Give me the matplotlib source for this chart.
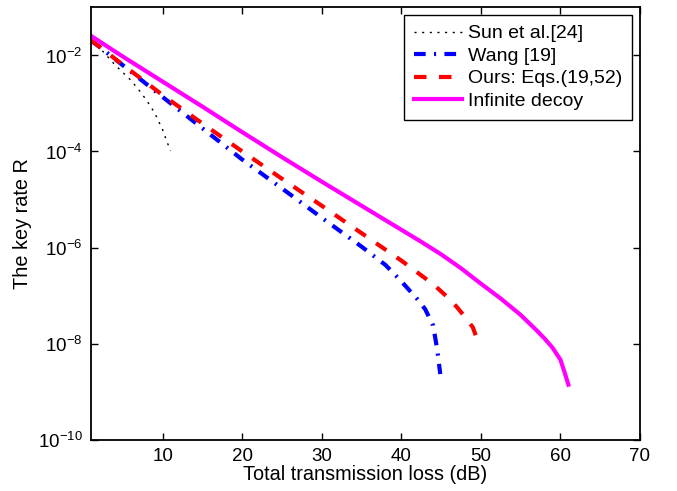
import numpy as np
import matplotlib
matplotlib.use("Agg")
import matplotlib.pyplot as plt
from matplotlib.ticker import FixedLocator, NullLocator, FuncFormatter

plt.rcParams['font.family'] = ['Liberation Sans', 'DejaVu Sans']
plt.rcParams['mathtext.fontset'] = 'custom'
plt.rcParams['mathtext.rm'] = 'Liberation Sans'

# values (log10 of key rate)
sun_x = [1, 2, 4, 6, 7, 8, 9, 10, 10.5, 11]
sun_log = [-1.70, -1.83, -2.20, -2.52, -2.72, -2.94, -3.20, -3.55, -3.78, -3.99]

wang_x = [1, 2, 5, 10, 15, 20, 25, 30, 35, 38, 40, 42, 43, 44, 44.5, 44.9]
wang_log = [-1.70, -1.82, -2.21, -2.87, -3.52, -4.17, -4.77, -5.38, -5.98,
            -6.36, -6.70, -7.07, -7.28, -7.62, -8.10, -8.63]

ours_x = [1, 5, 10, 15, 20, 25, 30, 35, 40, 44, 46, 47, 48, 49, 49.6]
ours_log = [-1.69, -2.20, -2.83, -3.42, -4.00, -4.57, -5.13, -5.70, -6.27,
            -6.76, -7.06, -7.24, -7.44, -7.66, -7.94]

inf_x = [1, 5, 10, 15, 20, 25, 30, 35, 40, 42.5, 45, 47.5, 50, 52.5, 55,
         57, 58, 59, 60, 60.5, 61]
inf_log = [-1.60, -2.03, -2.55, -3.07, -3.60, -4.12, -4.63, -5.13, -5.63,
           -5.88, -6.14, -6.43, -6.75, -7.06, -7.40, -7.72, -7.89, -8.08,
           -8.33, -8.58, -8.85]

fig = plt.figure(figsize=(6.77, 4.91), dpi=100)
ax = fig.add_axes([0.1344, 0.1039, 0.8109, 0.8818])

ax.semilogy(sun_x, 10.0 ** np.array(sun_log), color='black',
            linestyle=(0, (1.5, 4)), linewidth=1.0, label='Sun et al.[24]')
ax.semilogy(wang_x, 10.0 ** np.array(wang_log), color='blue',
            linestyle=(0, (2.8, 2, 0.5, 2)), linewidth=3.0, label='Wang [19]')
ax.semilogy(ours_x, 10.0 ** np.array(ours_log), color='red',
            linestyle=(0, (3, 3)), linewidth=3.0, label='Ours: Eqs.(19,52)')
ax.semilogy(inf_x, 10.0 ** np.array(inf_log), color='magenta', linestyle='-',
            linewidth=3.0, label='Infinite decoy')

ax.set_xlim(1, 70)
ax.set_ylim(1e-10, 1e-1)
ax.set_xticks([10, 20, 30, 40, 50, 60, 70])
ax.yaxis.set_major_locator(FixedLocator([1e-10, 1e-8, 1e-6, 1e-4, 1e-2]))
ax.yaxis.set_minor_locator(NullLocator())
ax.yaxis.set_major_formatter(FuncFormatter(lambda v, p: r'$10^{%d}$' % round(np.log10(v))))

ax.tick_params(direction='in', top=True, right=True, length=5, width=1,
               labelsize=13.5, pad=6)
for s in ax.spines.values():
    s.set_linewidth(1.3)

ax.set_xlabel('Total transmission loss (dB)', fontsize=14.3, labelpad=0)
ax.set_ylabel('The key rate R', fontsize=14.3, labelpad=4)

leg = ax.legend(loc='upper right', fontsize=14, handlelength=2.5,
                borderpad=0.5, labelspacing=0.25, handletextpad=0.3,
                borderaxespad=0, fancybox=False, framealpha=1,
                edgecolor='black', bbox_to_anchor=(0.9854, 0.9815))
leg.get_frame().set_linewidth(1.0)

fig.savefig('out.png', dpi=100)
